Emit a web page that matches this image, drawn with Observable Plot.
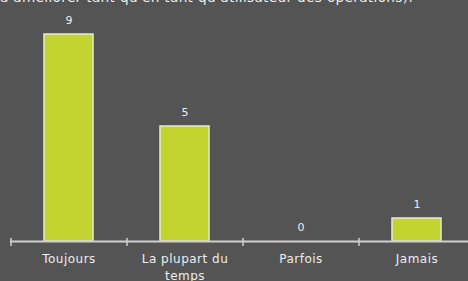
<!DOCTYPE html>
<html>
<head>
<meta charset="utf-8">
<script src="https://cdn.jsdelivr.net/npm/d3@7"></script>
<script src="https://cdn.jsdelivr.net/npm/@observablehq/plot@0.6"></script>
<style>
  html, body { margin: 0; padding: 0; background: #545454; }
  #wrap { position: relative; width: 468px; height: 281px; overflow: hidden; background: #545454; }
  #title { position: absolute; top: -11px; left: 0; white-space: nowrap; color: #f0f0f0;
           font-family: "DejaVu Sans", sans-serif; font-size: 13.6px; letter-spacing: 0.35px; }
  #chart { position: absolute; top: 0; left: 0; }
  #chart svg text.cat { letter-spacing: 0.5px; }
</style>
</head>
<body>
<div id="wrap">
  <div id="title">à améliorer tant qu'en tant qu'utilisateur des opérations).</div>
  <div id="chart"></div>
</div>
<script>
const categories = ["Toujours", "La plupart du temps", "Parfois", "Jamais"];
const tickLabels = ["Toujours", "La plupart du\ntemps", "Parfois", "Jamais"];
const values = [9, 5, 0, 1];

const data = categories.map((c, i) => ({category: c, value: values[i], label: tickLabels[i]}));

const plot = Plot.plot({
  width: 468,
  height: 281,
  marginLeft: 10,
  marginRight: 0,
  marginTop: 34,
  marginBottom: 40,
  style: {background: "transparent", fontFamily: "DejaVu Sans, sans-serif"},
  x: {domain: categories, range: [10, 474], paddingInner: 0.578, paddingOuter: 0.289, axis: null},
  y: {domain: [0, 9], axis: null},
  marks: [
    Plot.barY(data, {x: "category", y: "value", fill: "#c3d330", stroke: "#e6ebc8", strokeWidth: 1.5}),
    Plot.ruleY([0], {stroke: "#cfcfcf", strokeWidth: 2}),
    Plot.ruleX(data, {x: "category", dx: -58, y1: 0, y2: 0, insetTop: -3, insetBottom: -5, stroke: "#cfcfcf", strokeWidth: 1.5}),
    Plot.text(data, {x: "category", y: "value", text: d => String(d.value), dy: -14, fill: "#eeeeee", fontSize: 11}),
    Plot.text(data, {x: "category", y: 0, text: "label", dy: 10, lineAnchor: "top", lineHeight: 1.4, fill: "#eeeeee", fontSize: 12, className: "cat"})
  ]
});
plot.querySelectorAll("g[aria-label='text']").forEach((g, i) => { if (i === 1) g.querySelectorAll("text").forEach(t => t.classList.add("cat")); });
document.getElementById("chart").appendChild(plot);
</script>
</body>
</html>
